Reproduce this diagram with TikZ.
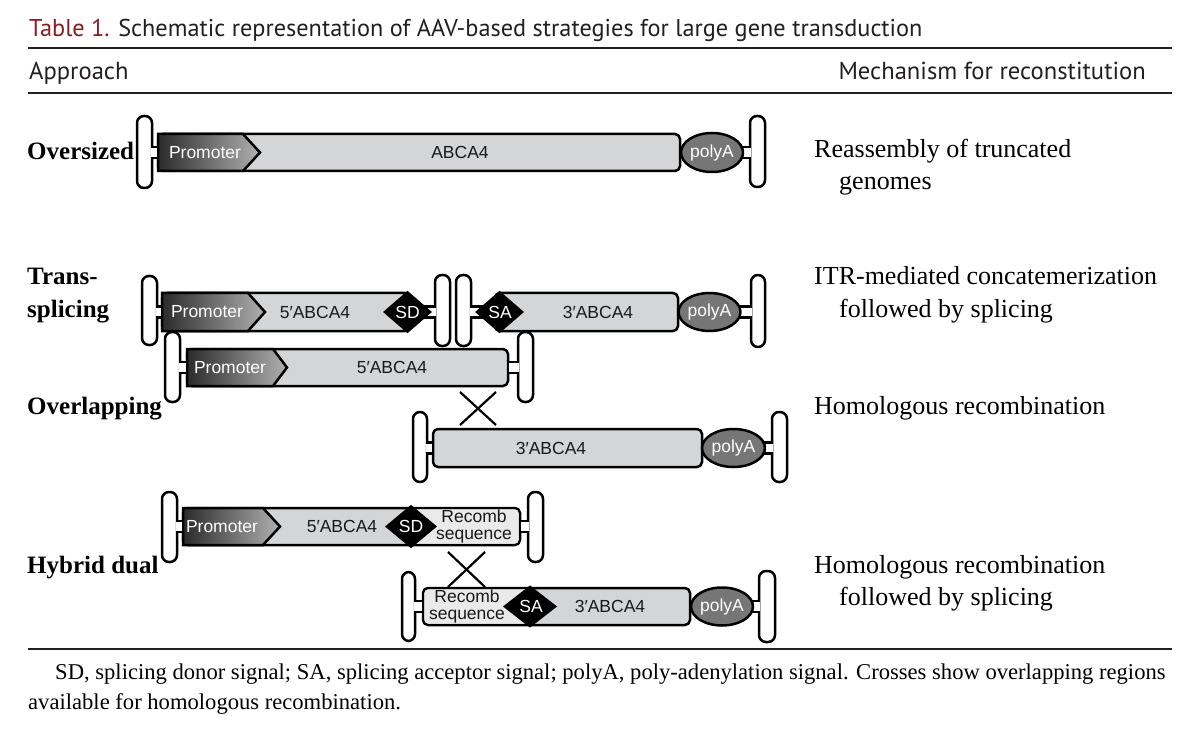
\documentclass[tikz,border=0pt]{standalone}
\usepackage{fontspec}
\setmainfont{Liberation Serif}
\newfontfamily\hdrfont{PT Sans}
\newfontfamily\casfont{Liberation Sans}
\usetikzlibrary{shapes.geometric}
\definecolor{boxgray}{HTML}{D4D5D7}
\definecolor{recgray}{HTML}{EAEAEB}
\definecolor{polygray}{HTML}{767676}
\definecolor{promdark}{HTML}{2B2B2B}
\definecolor{promlight}{HTML}{B0B0B0}
\definecolor{titlered}{HTML}{8E1B22}
\definecolor{hdrgray}{HTML}{231F20}
\tikzset{
 ln/.style={line width=2.5pt, line join=round},
 itr/.style={ln, draw=black, fill=white, rounded corners=7pt},
 cbox/.style={ln, draw=black, fill=boxgray, rounded corners=5pt},
 polya/.style={ellipse, ln, draw=black, fill=polygray, text=white, font=\casfont\fontsize{17.5}{19}\selectfont, inner sep=0pt},
 sig/.style={ln, draw=black, fill=black, line join=miter},
 ctxt/.style={font=\casfont\fontsize{17.5}{17.5}\selectfont, inner sep=0pt, text=black!90},
 wtxt/.style={ctxt, text=white},
 lbl/.style={anchor=base west, font=\bfseries\fontsize{25}{28}\selectfont, inner sep=0pt},
 mech/.style={anchor=base west, font=\fontsize{26}{28}\selectfont, inner sep=0pt},
 hdr/.style={font=\hdrfont\fontsize{24.6}{28}\selectfont, inner sep=0pt, text=hdrgray},
 fnote/.style={anchor=base west, font=\fontsize{22.6}{24}\selectfont, inner sep=0pt},
 crossln/.style={line width=2.2pt},
 hrule/.style={line width=1.8pt, draw=hdrgray},
}
\newcommand{\ITR}[4]{\draw[itr] (#1,#2) rectangle (#3,#4);}
\newcommand{\STEM}[3]{\fill[white] (#1,#3-5.5) rectangle (#2,#3+5.5);
  \draw[ln, line cap=butt] (#1,#3-5.5) -- (#2,#3-5.5) (#1,#3+5.5) -- (#2,#3+5.5);}
\newcommand{\PROM}[5]{%
  \shade[left color=promdark, right color=promlight] (#1,#2) -- (#3,#2) -- (#4,{(#2+#5)/2}) -- (#3,#5) -- (#1,#5) -- cycle;
  \draw[ln, line join=miter] (#1,#2) -- (#3,#2) -- (#4,{(#2+#5)/2}) -- (#3,#5) -- (#1,#5) -- cycle;}
\newcommand{\DIAM}[4]{\draw[sig] (#1-#3,#2) -- (#1,#2-#4) -- (#1+#3,#2) -- (#1,#2+#4) -- cycle;}
\begin{document}
\begin{tikzpicture}[x=1pt,y=-1pt]
\useasboundingbox (0,0) rectangle (1200,730);
\fill[white] (0,0) rectangle (1200,730);
% header
\node[hdr, font=\hdrfont\fontsize{24.3}{28}\selectfont, anchor=base west] (title) at (29,37) {\textcolor{titlered}{Table 1.} Schematic representation of AAV-based strategies for large gene transduction};
\draw[hrule] (28,48) -- (1172,48);
\node[hdr, anchor=base west] (appr) at (29,80) {Approach};
\node[hdr, anchor=base east] (mechh) at (1146,80) {Mechanism for reconstitution};
\draw[hrule, line width=1.4pt] (28,93) -- (1172,93);
\draw[hrule] (28,649) -- (1172,649);
% ---------- Oversized
\ITR{137}{116}{152}{188}
\ITR{750}{116}{765}{187}
\draw[cbox] (158,134) rectangle (680,171);
\PROM{158}{134}{243}{260}{171}
\STEM{150.6}{156.7}{152.5}
\STEM{738}{751.4}{152.5}
\node[polya, minimum width=62pt, minimum height=39pt] (pa1) at (712,152.5) {polyA};
\node[wtxt] (pr1) at (205,152.5) {Promoter};
\node[ctxt] (g1) at (460,152.5) {ABCA4};
\node[lbl] (l1) at (27,160) {Oversized};
\node[mech] (m1a) at (814,158) {Reassembly of truncated};
\node[mech] (m1b) at (839,190) {genomes};
% ---------- Trans-splicing
\ITR{142}{276}{157}{345}
\ITR{435}{275}{450}{346}
\ITR{456}{275}{471}{346}
\ITR{751}{275}{765}{347}
\draw[cbox] (162,293) rectangle (410,331);
\PROM{162}{293}{248}{265}{331}
\draw[cbox] (495,293) rectangle (678,331);
\STEM{155.6}{160.7}{312}
\STEM{420}{436.4}{312}
\STEM{469.6}{485}{312}
\STEM{735}{752.4}{312}
\DIAM{407.5}{312}{22.5}{19.5}
\DIAM{499.5}{312}{22.5}{19.5}
\node[polya, minimum width=61pt, minimum height=38pt] (pa2) at (709.5,312) {polyA};
\node[wtxt] (pr2) at (207,312) {Promoter};
\node[ctxt] (g2a) at (315,312) {5′ABCA4};
\node[wtxt] (sd2) at (407.5,312) {SD};
\node[wtxt] (sa2) at (500,312) {SA};
\node[ctxt] (g2b) at (598,312) {3′ABCA4};
\node[lbl] (l2a) at (27,285) {Trans-};
\node[lbl] (l2b) at (27,317) {splicing};
\node[mech] (m2a) at (814,285) {ITR-mediated concatemerization};
\node[mech] (m2b) at (839,317) {followed by splicing};
% ---------- Overlapping
\ITR{165}{332}{180}{402}
\ITR{518}{332}{533}{402}
\draw[cbox] (187,349) rectangle (508,386);
\PROM{187}{349}{273}{287}{386}
\STEM{178.6}{185.7}{367.5}
\STEM{509.3}{519.4}{367.5}
\node[wtxt] (pr3) at (230,367.5) {Promoter};
\node[ctxt] (g3a) at (392,367.5) {5′ABCA4};
\coordinate (x3a) at (460,392); \coordinate (x3b) at (496,425);
\coordinate (x3c) at (496,392); \coordinate (x3d) at (460,425);
\draw[crossln] (x3a) -- (x3b);
\draw[crossln] (x3c) -- (x3d);
\ITR{413}{412}{427}{482}
\ITR{772}{412}{787}{482}
\draw[cbox] (433,429) rectangle (702,467);
\STEM{425.6}{431.7}{448}
\STEM{760}{773.4}{448}
\node[polya, minimum width=63pt, minimum height=38pt] (pa3) at (733.5,448) {polyA};
\node[ctxt] (g3b) at (551,448) {3′ABCA4};
\node[lbl] (l3) at (27,414) {Overlapping};
\node[mech] (m3) at (814,414) {Homologous recombination};
% ---------- Hybrid dual
\ITR{162}{492}{177}{562}
\ITR{528}{492}{543}{562}
\draw[cbox] (183,508) rectangle (520,545);
\fill[recgray, rounded corners=4pt] (411,509.3) rectangle (518.7,543.7);
\PROM{183}{508}{263}{280}{545}
\STEM{175.6}{181.7}{526.5}
\STEM{521.3}{529.4}{526.5}
\DIAM{411}{526.5}{24}{20}
\node[wtxt] (pr4) at (222,526.5) {Promoter};
\node[ctxt] (g4a) at (342,526.5) {5′ABCA4};
\node[wtxt] (sd4) at (411,526.5) {SD};
\node[ctxt, align=center] (rc4a) at (474,526.5) {Recomb\\sequence};
\coordinate (x4a) at (448,552); \coordinate (x4b) at (485,587);
\coordinate (x4c) at (485,552); \coordinate (x4d) at (448,587);
\draw[crossln] (x4a) -- (x4b);
\draw[crossln] (x4c) -- (x4d);
\ITR{402}{572}{415}{641}
\ITR{759}{571}{775}{642}
\draw[cbox] (423,588) rectangle (690,625);
\fill[recgray, rounded corners=4pt] (424.3,589.3) rectangle (530,623.7);
\STEM{413.6}{421.7}{606.5}
\STEM{750}{760.4}{606.5}
\DIAM{530}{606.5}{25}{19.5}
\node[polya, minimum width=62pt, minimum height=38pt] (pa4) at (722,606.5) {polyA};
\node[ctxt, align=center] (rc4b) at (467,606.5) {Recomb\\sequence};
\node[wtxt] (sa4) at (531,606.5) {SA};
\node[ctxt] (g4b) at (610,606.5) {3′ABCA4};
\node[lbl] (l4) at (27,573) {Hybrid dual};
\node[mech] (m4a) at (814,573) {Homologous recombination};
\node[mech] (m4b) at (839,605) {followed by splicing};
% footnote
\node[fnote] (fn1) at (55,679) {SD, splicing donor signal; SA, splicing acceptor signal; polyA, poly-adenylation signal. Crosses show overlapping regions};
\node[fnote] (fn2) at (28,709) {available for homologous recombination.};
\end{tikzpicture}
\end{document}
